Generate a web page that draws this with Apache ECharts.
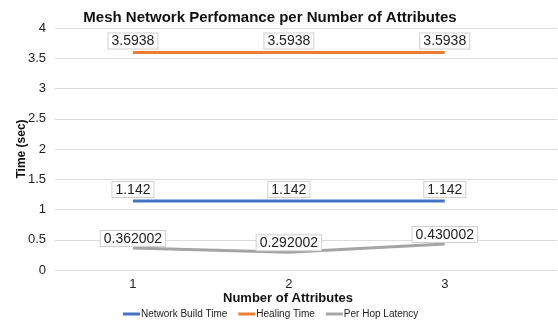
<!DOCTYPE html>
<html>
<head>
<meta charset="utf-8">
<script src="https://cdn.jsdelivr.net/npm/echarts@6/dist/echarts.min.js"></script>
<style>
  html, body { margin: 0; padding: 0; background: #fff; }
  #chart { width: 558px; height: 324px; }
</style>
</head>
<body>
<div id="chart"></div>
<script>
const categories = [1, 2, 3]
const buildTime = [1.142, 1.142, 1.142]
const healingTime = [3.5938, 3.5938, 3.5938]
const hopLatency = [0.362002, 0.292002, 0.430002]
const labelTexts = {
  build: ['1.142', '1.142', '1.142'],
  healing: ['3.5938', '3.5938', '3.5938'],
  hop: ['0.362002', '0.292002', '0.430002']
}

const font = 'Liberation Sans, Arial, sans-serif'
const chart = echarts.init(document.getElementById('chart'))

const toPairs = (vals) => categories.map((c, i) => [c, vals[i]])

const makeLabel = (texts, dist) => ({
  show: true,
  position: 'top',
  distance: dist,
  formatter: (p) => texts[p.dataIndex],
  fontFamily: font,
  fontSize: 14,
  color: '#222',
  backgroundColor: '#fff',
  borderColor: '#d0d0d0',
  borderWidth: 1,
  padding: [1, 3, 0, 3]
})

const makeSeries = (name, vals, color, texts, dist) => ({
  name,
  type: 'line',
  data: toPairs(vals),
  showSymbol: true,
  symbol: 'circle',
  symbolSize: 0,
  lineStyle: { width: 3, color },
  itemStyle: { color },
  label: makeLabel(texts, dist),
  z: 3
})

const option = {
  backgroundColor: '#fff',
  animation: false,
  title: {
    text: 'Mesh Network Perfomance per Number of Attributes',
    left: 265,
    textAlign: 'center',
    top: 5,
    textStyle: { fontFamily: font, fontSize: 15, fontWeight: 'bold', color: '#111' }
  },
  grid: { left: 55, right: 1, top: 28, bottom: 54 },
  xAxis: {
    type: 'value',
    min: 0.5,
    max: 3.72,
    interval: 0.5,
    name: 'Number of Attributes',
    nameLocation: 'middle',
    nameGap: 22,
    nameMoveOverlap: false,
    nameTextStyle: { fontFamily: font, fontSize: 13, fontWeight: 'bold', color: '#111', padding: [0, 36, 0, 0] },
    axisLine: { show: false },
    axisTick: { show: false },
    splitLine: { show: false },
    axisLabel: {
      margin: 8,
      fontFamily: font,
      fontSize: 13,
      color: '#222',
      showMaxLabel: false,
      formatter: (v) => (Number.isInteger(v) && categories.includes(v) ? String(v) : '')
    }
  },
  yAxis: {
    type: 'value',
    min: 0,
    max: 4,
    interval: 0.5,
    name: 'Time (sec)',
    nameLocation: 'middle',
    nameGap: 27,
    nameMoveOverlap: false,
    nameTextStyle: { fontFamily: font, fontSize: 12, fontWeight: 'bold', color: '#111' },
    axisLine: { show: false },
    axisTick: { show: false },
    axisLabel: { margin: 9, fontFamily: font, fontSize: 13, color: '#222' },
    splitLine: { lineStyle: { color: '#dcdcdc', width: 1 } }
  },
  legend: {
    bottom: 0,
    left: 118,
    itemWidth: 17,
    itemHeight: 3,
    itemGap: 11,
    icon: 'rect',
    textStyle: { fontFamily: font, fontSize: 10, color: '#222', padding: [0, 0, 0, -4] },
    data: ['Network Build Time', 'Healing Time', 'Per Hop Latency']
  },
  series: [
    makeSeries('Network Build Time', buildTime, '#4472C4', labelTexts.build, 4),
    makeSeries('Healing Time', healingTime, '#ED7D31', labelTexts.healing, 4),
    makeSeries('Per Hop Latency', hopLatency, '#A5A5A5', labelTexts.hop, 2)
  ]
}

chart.setOption(option)
</script>
</body>
</html>
